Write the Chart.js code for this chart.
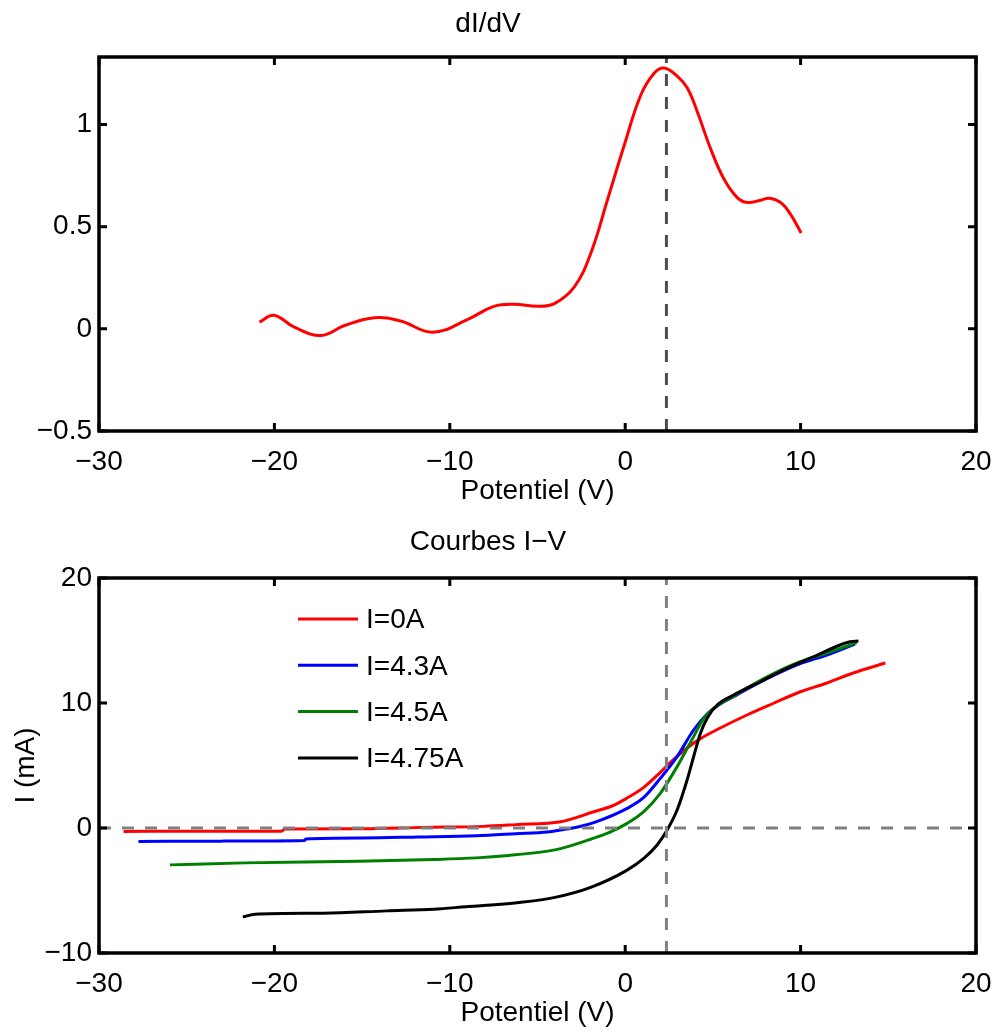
<!DOCTYPE html>
<html>
<head>
<meta charset="utf-8">
<script src="https://cdn.jsdelivr.net/npm/chart.js@4.4.0/dist/chart.umd.min.js"></script>
<style>
  body { margin: 0; background: #fff; }
  canvas { position: absolute; left: 0; }
  #didv { top: 0; }
  #iv { top: 515px; }
</style>
</head>
<body>
<canvas id="didv" width="997" height="515"></canvas>
<canvas id="iv" width="997" height="519"></canvas>
<script>
// dI/dV curve (top)
const didvV   = [-20.85, -20.03, -18.86, -17.34, -16.0, -14.3, -12.8, -10.98, -9.0, -7.48, -6.32, -4.99, -4.04, -2.9, -1.96, -1.0, -0.06, 0.89, 1.65, 2.22, 2.98, 3.55, 4.11, 4.87, 5.63, 6.39, 6.96, 7.72, 8.2, 8.86, 9.43, 10.03];
const didvVal = [0.033, 0.066, 0.008, -0.033, 0.016, 0.054, 0.038, -0.017, 0.045, 0.11, 0.12, 0.11, 0.123, 0.205, 0.37, 0.634, 0.897, 1.144, 1.251, 1.276, 1.235, 1.177, 1.062, 0.881, 0.733, 0.642, 0.618, 0.629, 0.639, 0.618, 0.56, 0.469];

// potential of the dI/dV peak (dashed marker) and zero current
const peakV = 2.35;
const zeroI = 0;

// I-V curves (bottom)
const ivLabels = ['I=0A', 'I=4.3A', 'I=4.5A', 'I=4.75A'];

const vRed   = [-28.6, -24, -19.6, -19.4, -15, -11.5, -8.07, -6.24, -3.68, -1.79, -0.68, 0.11, 1.06, 2.0, 2.58, 3.53, 4.29, 5.42, 6.94, 8.46, 9.98, 11.5, 13.0, 14.83];
const iRed   = [-0.27, -0.26, -0.25, -0.08, -0.06, 0.05, 0.13, 0.27, 0.5, 1.3, 1.8, 2.4, 3.25, 4.45, 5.25, 6.4, 7.15, 8.0, 9.04, 9.98, 10.9, 11.6, 12.4, 13.2];

const vBlue  = [-27.75, -23, -18.3, -18.2, -15, -11.8, -8.5, -6.24, -4.42, -3.68, -2.7, -1.79, 0.11, 1.06, 2.0, 2.96, 3.9, 4.67, 5.42, 6.18, 6.94, 8.46, 9.98, 11.5, 13.1];
const iBlue  = [-1.07, -1.05, -1.0, -0.88, -0.8, -0.72, -0.62, -0.46, -0.32, -0.16, 0.08, 0.43, 1.57, 2.45, 3.97, 5.71, 7.84, 9.12, 9.92, 10.5, 11.1, 12.2, 13.15, 13.84, 14.72];

const vGreen = [-25.96, -21.7, -15.2, -10.9, -8.48, -6.65, -4.42, -3.68, -1.97, -0.9, 0.11, 1.06, 2.0, 2.96, 3.9, 4.48, 5.24, 6.18, 6.94, 8.46, 9.98, 11.5, 13.2];
const iGreen = [-2.95, -2.79, -2.66, -2.52, -2.39, -2.2, -1.85, -1.65, -0.9, -0.35, 0.37, 1.31, 2.77, 4.91, 7.31, 8.77, 9.79, 10.55, 11.2, 12.35, 13.3, 14.0, 14.83];

const vBlack = [-21.8, -21.1, -17.2, -13.6, -10.9, -9.09, -6.04, -4.0, -1.97, 0.06, 1.06, 1.82, 2.39, 2.96, 3.53, 3.9, 4.29, 4.67, 5.24, 6.18, 7.7, 9.22, 10.73, 12.25, 12.82, 13.3];
const iBlack = [-7.11, -6.9, -6.82, -6.63, -6.5, -6.3, -5.96, -5.55, -4.75, -3.41, -2.43, -1.36, -0.16, 1.44, 3.84, 5.7, 7.58, 8.78, 9.84, 10.64, 11.7, 12.78, 13.7, 14.64, 14.9, 14.96];

const ivColors = ['#ff0000', '#0000ff', '#008000', '#000000'];

Chart.defaults.font.family = '"Liberation Sans", Arial, Helvetica, sans-serif';
Chart.defaults.font.size = 28;
Chart.defaults.color = '#000';
Chart.defaults.animation = false;

const minus = v => String(v).replace('-', '\u2212');
const pts = (xs, ys) => xs.map((x, k) => ({ x: x, y: ys[k] }));

// box round the axes with inward ticks, like matlab
const frame = {
  id: 'frame',
  afterDatasetsDraw(chart) {
    const { ctx, chartArea: a, scales: { x, y } } = chart;
    ctx.save();
    ctx.strokeStyle = '#000';
    ctx.lineWidth = 3;
    ctx.beginPath();
    x.ticks.forEach(t => {
      const px = x.getPixelForValue(t.value);
      ctx.moveTo(px, a.bottom); ctx.lineTo(px, a.bottom - 8);
      ctx.moveTo(px, a.top); ctx.lineTo(px, a.top + 8);
    });
    y.ticks.forEach(t => {
      const py = y.getPixelForValue(t.value);
      ctx.moveTo(a.left, py); ctx.lineTo(a.left + 8, py);
      ctx.moveTo(a.right, py); ctx.lineTo(a.right - 8, py);
    });
    ctx.stroke();
    ctx.lineWidth = 3.5;
    ctx.strokeRect(a.left, a.top, a.right - a.left, a.bottom - a.top);
    ctx.restore();
  }
};

// legend without box, inside the axes
const ivLegend = {
  id: 'ivLegend',
  afterDraw(chart) {
    const { ctx, chartArea: a } = chart;
    ctx.save();
    ctx.font = '28px "Liberation Sans", Arial, sans-serif';
    ctx.textBaseline = 'middle';
    ctx.textAlign = 'left';
    ivLabels.forEach((lab, i) => {
      const yy = a.top + 41 + i * 46.3;
      ctx.strokeStyle = ivColors[i];
      ctx.lineWidth = 3;
      ctx.beginPath();
      ctx.moveTo(a.left + 199, yy);
      ctx.lineTo(a.left + 259, yy);
      ctx.stroke();
      ctx.fillStyle = '#000';
      ctx.fillText(lab, a.left + 267, yy + 1.5);
    });
    ctx.restore();
  }
};

function xScale(titlePadBottom, height) {
  return {
    type: 'linear', min: -30, max: 20,
    ticks: { stepSize: 10, padding: 14, callback: minus, maxRotation: 0, autoSkip: false },
    grid: { display: false, drawTicks: false },
    border: { display: false },
    title: { display: true, text: 'Potentiel (V)', padding: { top: 0, bottom: titlePadBottom } },
    afterFit: s => { s.height = height; s.paddingLeft = 0; s.paddingRight = 0; }
  };
}

new Chart(document.getElementById('didv'), {
  type: 'scatter',
  data: {
    datasets: [
      {
        data: pts([peakV, peakV], [-0.5, 1.33]),
        showLine: true, pointRadius: 0, borderColor: '#4d4d4d', borderWidth: 3,
        borderDash: [12, 11], tension: 0, order: 0
      },
      {
        data: pts(didvV, didvVal),
        showLine: true, pointRadius: 0, borderColor: '#ff0000', borderWidth: 3,
        tension: 0.4, order: 1
      }
    ]
  },
  options: {
    responsive: false,
    devicePixelRatio: 1,
    layout: { padding: { left: 0, right: 21, top: 0, bottom: 0 } },
    plugins: {
      legend: { display: false },
      tooltip: { enabled: false },
      title: { display: true, text: 'dI/dV', font: { size: 28, weight: 'normal' }, padding: { top: 7.2, bottom: 16.2 } }
    },
    scales: {
      x: xScale(7.2, 84),
      y: {
        type: 'linear', min: -0.5, max: 1.33,
        ticks: { stepSize: 0.5, includeBounds: false, padding: 7, callback: minus },
        grid: { display: false, drawTicks: false },
        border: { display: false },
        afterFit: s => { s.width = 99; }
      }
    }
  },
  plugins: [frame]
});

const ivSeries = [[vRed, iRed], [vBlue, iBlue], [vGreen, iGreen], [vBlack, iBlack]];

new Chart(document.getElementById('iv'), {
  type: 'scatter',
  data: {
    datasets: [
      {
        data: pts([peakV, peakV], [-10, 20]),
        showLine: true, pointRadius: 0, borderColor: '#808080', borderWidth: 3,
        borderDash: [12, 11], tension: 0, order: 0
      },
      {
        data: pts([-30, 20], [zeroI, zeroI]),
        showLine: true, pointRadius: 0, borderColor: '#808080', borderWidth: 3,
        borderDash: [12, 11], tension: 0, order: 0
      }
    ].concat(ivSeries.map((s, i) => ({
      label: ivLabels[i],
      data: pts(s[0], s[1]),
      showLine: true, pointRadius: 0, borderColor: ivColors[i], borderWidth: 3,
      cubicInterpolationMode: 'monotone', order: 4 - i
    })))
  },
  options: {
    responsive: false,
    devicePixelRatio: 1,
    layout: { padding: { left: 0, right: 21, top: 0, bottom: 0 } },
    plugins: {
      legend: { display: false },
      tooltip: { enabled: false },
      title: { display: true, text: 'Courbes I\u2212V', font: { size: 28, weight: 'normal' }, padding: { top: 10.2, bottom: 19.2 } }
    },
    scales: {
      x: xScale(4.2, 81),
      y: {
        type: 'linear', min: -10, max: 20,
        ticks: { stepSize: 10, padding: 7, callback: minus },
        grid: { display: false, drawTicks: false },
        border: { display: false },
        title: { display: true, text: 'I (mA)', padding: { top: 9.2, bottom: 0 } },
        afterFit: s => { s.width = 99; }
      }
    }
  },
  plugins: [frame, ivLegend]
});
</script>
</body>
</html>
